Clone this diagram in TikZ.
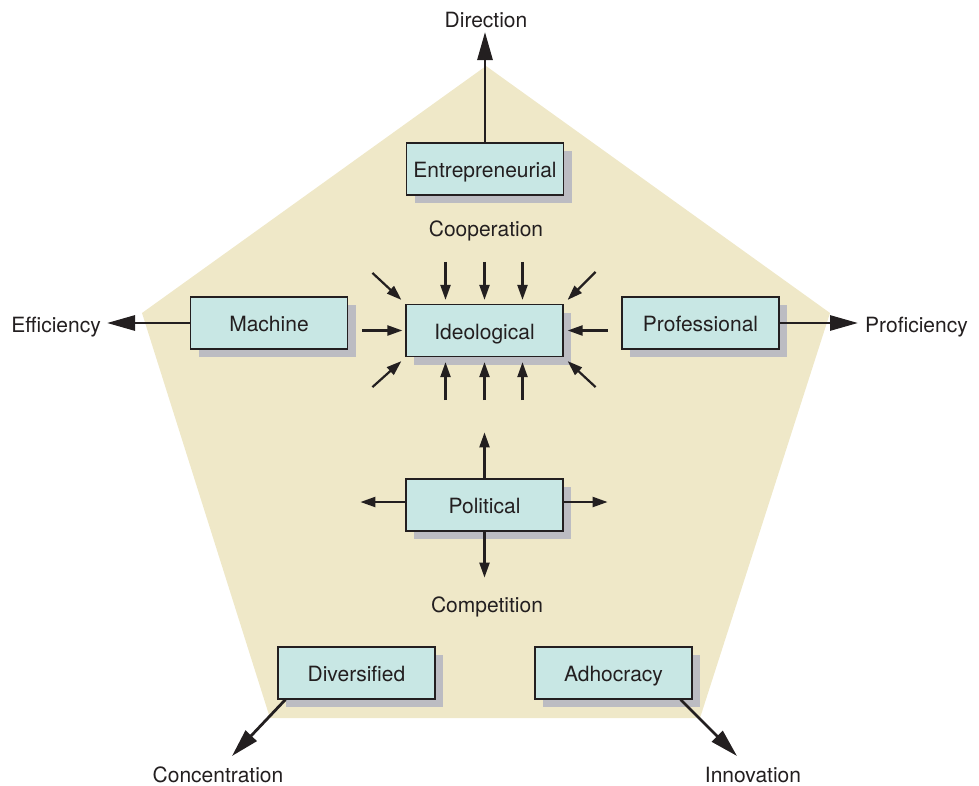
\documentclass[tikz,border=0pt]{standalone}
\usepackage{fontspec}
\setmainfont{TeX Gyre Heros}
\usetikzlibrary{arrows.meta,calc,shadows}

\definecolor{pentfill}{RGB}{239,232,200}
\definecolor{boxfill}{RGB}{200,231,228}
\definecolor{boxshade}{RGB}{188,188,194}
\definecolor{ink}{RGB}{35,31,32}

\tikzset{
  config/.style={draw=ink, line width=1.2pt, fill=boxfill, text=ink,
    minimum width=157pt, minimum height=52pt, inner sep=0pt,
    text height=17pt, text depth=0pt,
    font=\fontsize{21}{24}\selectfont,
    drop shadow={shadow xshift=8pt, shadow yshift=-8pt, fill=boxshade, opacity=1}},
  force/.style={text=ink, inner sep=0pt, font=\fontsize{21}{24}\selectfont},
  bigarrow/.style={draw=ink, line width=2.8pt,
    -{Triangle[length=28pt,width=15pt]}},
  smallarrow/.style={draw=ink, line width=2.2pt,
    -{Triangle[length=15pt,width=10pt]}}
}

\begin{document}
\begin{tikzpicture}[x=1pt,y=-1pt]
\useasboundingbox (0,0) rectangle (979,785);

% the pentagon of forces
\fill[pentfill] (486,66) -- (830,313) -- (700,718) -- (270,718) -- (142,313) -- cycle;

% configurations
\node[config] (ent)  at (485,169)   {Entrepreneurial};
\node[config] (mach) at (269,323)   {Machine};
\node[config] (ideo) at (484.5,330.5) {Ideological};
\node[config] (prof) at (700.5,323) {Professional};
\node[config] (pol)  at (484.5,505) {Political};
\node[config] (div)  at (356.5,673) {Diversified};
\node[config] (adh)  at (613.5,673) {Adhocracy};

% forces
\node[force, anchor=base]      (dir)  at (486,27)  {Direction};
\node[force, anchor=base east] (eff)  at (101,332) {Efficiency};
\node[force, anchor=base west] (prf)  at (865,332) {Proficiency};
\node[force, anchor=base]      (conc) at (218,782) {Concentration};
\node[force, anchor=base]      (inno) at (753,782) {Innovation};
\node[force, anchor=base]      (coop) at (486,236) {Cooperation};
\node[force, anchor=base]      (comp) at (487,612) {Competition};

% arrow tips of the outward forces
\coordinate (dirtip)  at (486,32);
\coordinate (efftip)  at (107,323);
\coordinate (prftip)  at (858,323);
\coordinate (conctip) at (232,756);
\coordinate (innotip) at (737,756);

\draw[bigarrow] (ent.north) -- (ent.north |- dirtip);
\draw[bigarrow] (mach.west) -- (efftip);
\draw[bigarrow] (prof.east) -- (prftip);
\draw[bigarrow] ($(div.south west)+(8,0)$) -- (conctip);
\draw[bigarrow] ($(adh.south east)+(-12,0)$) -- (innotip);

% cooperation: pulling inward on the ideological box
\foreach \dx in {-39,0,38} {
  \draw[smallarrow] ($(ideo.north)+(\dx,-42)$) -- ($(ideo.north)+(\dx,-4)$);
  \draw[smallarrow] ($(ideo.south)+(\dx,43)$) -- ($(ideo.south)+(\dx,5)$);
}
\draw[smallarrow] ($(ideo.west)+(-43,0)$) -- ($(ideo.west)+(-3,0)$);
\draw[smallarrow] ($(ideo.east)+(44,0)$) -- ($(ideo.east)+(4,0)$);
\draw[smallarrow] ($(ideo.north west)+(-33,-31)$) -- ($(ideo.north west)+(-4,-4)$);
\draw[smallarrow] ($(ideo.north east)+(32,-32)$) -- ($(ideo.north east)+(4,-4)$);
\draw[smallarrow] ($(ideo.south west)+(-33,30)$) -- ($(ideo.south west)+(-4,4)$);
\draw[smallarrow] ($(ideo.south east)+(32,30)$) -- ($(ideo.south east)+(4,4)$);

% competition: pulling apart from the political box
\draw[smallarrow] (pol.north) -- ($(pol.north)+(0,-46)$);
\draw[smallarrow] (pol.south) -- ($(pol.south)+(0,46)$);
\draw[smallarrow] ($(pol.west)+(0,-3)$) -- ($(pol.west)+(-45,-3)$);
\draw[smallarrow] ($(pol.east)+(0,-3)$) -- ($(pol.east)+(44,-3)$);
\end{tikzpicture}
\end{document}
